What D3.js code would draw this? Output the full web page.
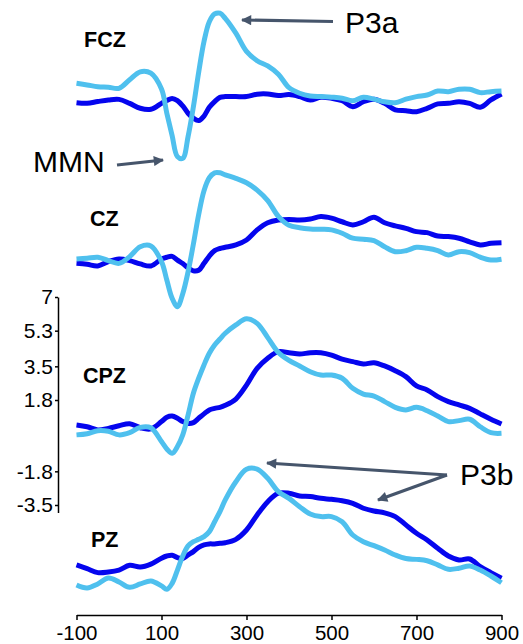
<!DOCTYPE html>
<html>
<head>
<meta charset="utf-8">
<script src="https://cdn.jsdelivr.net/npm/d3@7"></script>
<style>
  body { margin: 0; background: #fff; }
  svg { display: block; font-family: "Liberation Sans", Arial, Helvetica, sans-serif; }
</style>
</head>
<body>
<script>
// time points (ms), finer around the MMN / P3a deflections
var times = [-100, -75, -50, -25, 0, 25, 50, 75, 100,
  112.5, 125, 137.5, 150, 162.5, 175, 187.5, 200, 212.5, 225, 237.5,
  250, 275, 300, 325, 350, 375, 400, 425, 450, 475, 500, 525, 550, 575, 600,
  625, 650, 675, 700, 725, 750, 775, 800, 825, 850, 875, 900];

// amplitudes (uV), light blue and dark blue traces per electrode
var fczLight = [0.84, 0.76, 0.67, 0.64, 0.59, 1.02, 1.42, 1.35, 0.55,
  -0.67, -1.8, -2.86, -2.95, -1.85, -0.35, 1.4, 2.95, 3.95, 4.34, 4.38,
  4.12, 3.37, 2.45, 1.98, 1.72, 1.3, 0.62, 0.34, 0.2, 0.17, 0.14, 0.09, -0.04, 0.14, 0.04,
  -0.09, -0.14, 0.04, 0.17, 0.25, 0.45, 0.42, 0.54, 0.54, 0.37, 0.42, 0.45];
var fczDark = [-0.14, -0.17, -0.08, 0, 0.03, -0.17, -0.42, -0.47, -0.17,
  -0.03, 0.08, -0.03, -0.3, -0.67, -0.92, -1.04, -0.81, -0.37, -0.08, 0.13,
  0.17, 0.17, 0.17, 0.29, 0.3, 0.22, 0.27, 0.17, 0, 0.14, 0.09, -0.04, -0.34, -0.09, 0.04,
  -0.17, -0.5, -0.54, -0.59, -0.42, -0.2, -0.17, -0.09, -0.17, -0.37, 0, 0.3];

var czLight = [0.15, 0.19, 0.24, 0.07, -0.07, 0.27, 0.77, 0.81, 0.02,
  -0.91, -1.83, -2.26, -1.6, -0.5, 0.9, 2.4, 3.6, 4.25, 4.5, 4.5,
  4.4, 4.22, 4.0, 3.63, 3.1, 2.3, 1.85, 1.73, 1.67, 1.65, 1.62, 1.45, 1.2, 1.15, 1.08,
  0.77, 0.52, 0.57, 0.74, 0.69, 0.57, 0.35, 0.52, 0.47, 0.24, 0.1, 0.14];
var czDark = [-0.07, -0.12, -0.2, 0.02, 0.15, 0.07, -0.1, -0.2, 0.15,
  0.24, 0.28, 0.09, -0.08, -0.3, -0.45, -0.42, -0.07, 0.3, 0.57, 0.68,
  0.74, 0.86, 1.11, 1.62, 1.98, 2.12, 2.15, 2.12, 2.17, 2.29, 2.21, 2.03, 1.87, 2.03, 2.26,
  1.98, 1.82, 1.7, 1.53, 1.48, 1.31, 1.28, 1.2, 1.02, 0.86, 0.94, 0.97];

var cpzLight = [0.04, 0.1, 0.25, 0.22, 0.04, 0.15, 0.42, 0.4, -0.3,
  -0.67, -0.89, -0.55, 0.04, 1.04, 2.14, 2.9, 3.57, 4.16, 4.58, 4.88,
  5.17, 5.59, 5.9, 5.67, 4.95, 4.2, 3.8, 3.52, 3.23, 3.06, 3.06, 2.9, 2.39, 2.1, 2.0,
  1.72, 1.43, 1.3, 1.43, 1.26, 0.99, 0.71, 0.76, 0.83, 0.45, 0.15, 0.12];
var cpzDark = [0.54, 0.45, 0.29, 0.37, 0.5, 0.6, 0.4, 0.34, 0.71,
  0.93, 0.99, 0.88, 0.71, 0.62, 0.66, 0.88, 1.1, 1.3, 1.38, 1.43,
  1.53, 1.85, 2.55, 3.4, 3.91, 4.24, 4.19, 4.12, 4.19, 4.19, 4.07, 3.86, 3.74, 3.62, 3.68,
  3.52, 3.28, 2.98, 2.51, 2.31, 1.97, 1.72, 1.55, 1.38, 1.1, 0.83, 0.59];

var pzLight = [-0.25, -0.4, -0.2, 0.1, -0.1, -0.37, -0.2, -0.05, -0.3,
  -0.47, -0.17, 0.5, 1.21, 1.72, 1.93, 2.05, 2.19, 2.44, 2.94, 3.45,
  4.04, 4.96, 5.59, 5.6, 5.13, 4.46, 4.12, 3.7, 3.33, 3.2, 3.2, 2.94, 2.27, 1.93, 1.73,
  1.51, 1.26, 1.08, 1.04, 0.97, 0.76, 0.54, 0.59, 0.71, 0.5, 0.2, -0.14];
var pzDark = [0.76, 0.57, 0.37, 0.4, 0.5, 0.74, 0.65, 0.8, 1.1,
  1.21, 1.25, 1.13, 1.08, 1.26, 1.43, 1.65, 1.77, 1.82, 1.82, 1.85,
  1.88, 2.05, 2.52, 3.28, 3.95, 4.38, 4.38, 4.24, 4.21, 4.12, 4.07, 4.0, 3.87, 3.62, 3.48,
  3.39, 3.2, 2.78, 2.36, 2.02, 1.6, 1.21, 1.01, 1.06, 0.67, 0.37, 0.09];

var xTicks = [-100, 100, 300, 500, 700, 900];
var yTicks = [7, 5.3, 3.5, 1.8, -1.8, -3.5];
var electrodes = ["FCZ", "CZ", "CPZ", "PZ"];

var width = 523, height = 644;
var lightColor = "#4fc0ee", darkColor = "#0505ee", arrowColor = "#46556b";
var fontStack = '"Liberation Sans", Arial, Helvetica, sans-serif';

var svg = d3.select("body").append("svg")
    .attr("width", width)
    .attr("height", height);

var x = d3.scaleLinear().domain([-100, 900]).range([76.5, 501.5]);
var y = d3.scaleLinear().domain([-3.5, 7]).range([505, 297]);

// vertical placement of each electrode panel (px shift relative to the CPZ scale)
var panels = [
  { name: electrodes[0], light: fczLight, dark: fczDark, shift: -335.7, lx: 84, ly: 47 },
  { name: electrodes[1], light: czLight, dark: czDark, shift: -173.7, lx: 90, ly: 225.5 },
  { name: electrodes[2], light: cpzLight, dark: cpzDark, shift: 0, lx: 83, ly: 383 },
  { name: electrodes[3], light: pzLight, dark: pzDark, shift: 144.3, lx: 91, ly: 547 }
];

var line = d3.line()
    .x((d, i) => x(times[i]))
    .y(d => y(d))
    .curve(d3.curveCatmullRom.alpha(0.5));

var g = svg.selectAll("g.panel")
    .data(panels)
    .enter()
    .append("g")
    .attr("class", "panel")
    .attr("transform", d => "translate(0," + d.shift + ")");

g.append("path")
    .attr("d", d => line(d.dark))
    .attr("fill", "none")
    .attr("stroke", darkColor)
    .attr("stroke-width", 5)
    .attr("stroke-linejoin", "round");

g.append("path")
    .attr("d", d => line(d.light))
    .attr("fill", "none")
    .attr("stroke", lightColor)
    .attr("stroke-width", 5)
    .attr("stroke-linejoin", "round");

svg.selectAll("text.elec")
    .data(panels)
    .enter()
    .append("text")
    .attr("class", "elec")
    .attr("x", d => d.lx)
    .attr("y", d => d.ly)
    .attr("font-size", 21.5)
    .attr("font-weight", "bold")
    .attr("fill", "#000")
    .text(d => d.name);

// axes
var xAxis = svg.append("g")
    .attr("transform", "translate(0,615)")
    .attr("font-family", fontStack)
    .call(d3.axisBottom(x).tickValues(xTicks).tickSize(5).tickSizeOuter(0)
      .tickPadding(5).tickFormat(d => String(d)));
xAxis.select(".domain").attr("stroke-width", 1.5);
xAxis.selectAll(".tick line").attr("stroke-width", 1.5);
xAxis.selectAll("text").attr("font-size", 20.5).attr("fill", "#000");

var yAxisScale = y.copy().domain([-3.88, 7]).range([y(-3.88), y(7)]);
var yAxis = svg.append("g")
    .attr("transform", "translate(58,0)")
    .attr("font-family", fontStack)
    .call(d3.axisLeft(yAxisScale).tickValues(yTicks).tickSize(3).tickSizeOuter(0)
      .tickPadding(2).tickFormat(d => String(d)));
yAxis.select(".domain").attr("stroke-width", 1.5);
yAxis.selectAll(".tick line").attr("stroke-width", 1.5);
yAxis.selectAll("text").attr("font-size", 21).attr("fill", "#000");

// annotation arrows
svg.append("defs").append("marker")
    .attr("id", "head")
    .attr("viewBox", "0 0 10 10")
    .attr("refX", 9)
    .attr("refY", 5)
    .attr("markerWidth", 4)
    .attr("markerHeight", 3.2)
    .attr("markerUnits", "strokeWidth")
    .attr("orient", "auto")
    .append("path")
    .attr("d", "M0,0 L10,5 L0,10 Z")
    .attr("fill", arrowColor);

var arrows = [
  [[333, 21.5], [242, 20]],
  [[117, 165], [163, 160]],
  [[447, 475], [267, 463]],
  [[447, 475], [378, 500]]
];
svg.selectAll("line.arrow")
    .data(arrows)
    .enter()
    .append("line")
    .attr("class", "arrow")
    .attr("x1", d => d[0][0]).attr("y1", d => d[0][1])
    .attr("x2", d => d[1][0]).attr("y2", d => d[1][1])
    .attr("stroke", arrowColor)
    .attr("stroke-width", 3.2)
    .attr("marker-end", "url(#head)");

var notes = [
  { text: "P3a", x: 345, y: 32.5 },
  { text: "MMN", x: 33, y: 172 },
  { text: "P3b", x: 460, y: 485 }
];
svg.selectAll("text.note")
    .data(notes)
    .enter()
    .append("text")
    .attr("class", "note")
    .attr("x", d => d.x)
    .attr("y", d => d.y)
    .attr("font-size", 30)
    .attr("fill", "#000")
    .text(d => d.text);
</script>
</body>
</html>
